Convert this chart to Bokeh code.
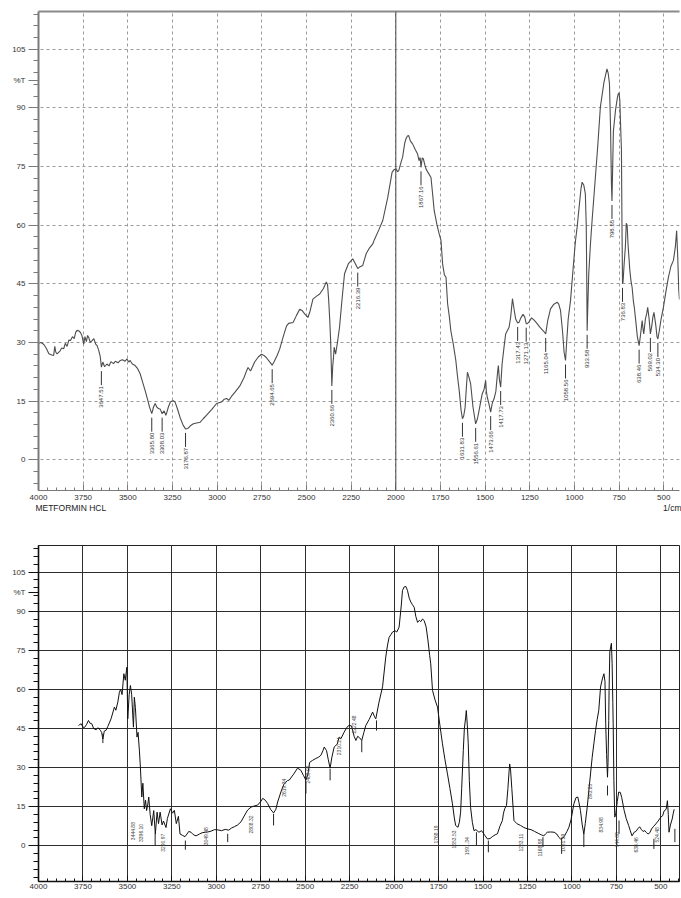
import numpy as np
from bokeh.plotting import figure
from bokeh.models import Range1d, FixedTicker, LinearAxis, Span
from bokeh.layouts import column
from bokeh.embed import file_html
from bokeh.resources import INLINE
from bokeh.core.properties import value

# ---------------- data ----------------
# top spectrum: METFORMIN HCL  (wavenumber 1/cm, %T)
top_spectrum = [
    (4000, 29.8), (3985, 30.0), (3970, 29.5), (3955, 28.4), (3942, 27.1), (3925, 26.8), (3915, 26.7),
    (3909, 29.0), (3903, 27.5), (3896, 27.1), (3880, 27.8), (3870, 28.6), (3859, 28.4), (3850, 29.8),
    (3840, 29.0), (3830, 30.6), (3821, 30.5), (3810, 31.5), (3800, 31.0), (3792, 32.6), (3784, 33.1),
    (3775, 33.0), (3766, 32.6), (3757, 31.8), (3747, 29.6), (3740, 31.5), (3732, 30.2), (3725, 31.8),
    (3719, 31.3), (3710, 30.0), (3700, 30.5), (3690, 31.0), (3680, 29.6), (3672, 29.2), (3663, 28.0),
    (3654, 26.3), (3648, 23.7), (3640, 25.0), (3630, 23.8), (3617, 24.5), (3605, 24.0), (3595, 25.1),
    (3580, 24.6), (3570, 25.2), (3555, 24.8), (3542, 25.4), (3530, 25.6), (3515, 25.2), (3505, 25.8),
    (3495, 25.0), (3487, 25.4), (3475, 24.5), (3459, 24.1), (3445, 23.3), (3431, 22.0), (3418, 20.0),
    (3403, 17.7), (3390, 15.5), (3378, 13.4), (3366, 11.8), (3356, 13.5), (3347, 14.4), (3338, 13.5),
    (3328, 13.1), (3318, 12.9), (3308, 11.8), (3297, 12.5), (3287, 11.4), (3280, 12.4), (3273, 13.5),
    (3262, 14.8), (3254, 15.0), (3245, 15.1), (3236, 14.8), (3222, 13.0), (3208, 10.9), (3190, 8.8),
    (3177, 7.9), (3165, 8.0), (3150, 8.7), (3133, 9.2), (3115, 9.4), (3096, 9.6), (3078, 10.5),
    (3059, 11.4), (3030, 12.9), (3003, 14.4), (2990, 14.6), (2975, 14.8), (2960, 15.5), (2947, 15.7),
    (2935, 15.2), (2920, 16.2), (2900, 17.3), (2873, 18.9), (2850, 21.0), (2835, 22.8), (2827, 23.6),
    (2813, 22.7), (2790, 25.0), (2770, 26.3), (2752, 27.0), (2738, 26.7), (2724, 26.1), (2705, 25.0),
    (2692, 24.2), (2680, 25.2), (2665, 26.6), (2650, 28.3), (2630, 31.5), (2612, 34.2), (2600, 34.9),
    (2575, 35.1), (2555, 37.0), (2538, 38.5), (2525, 38.2), (2510, 37.3), (2492, 36.4), (2480, 38.0),
    (2464, 41.1), (2445, 41.8), (2426, 42.4), (2405, 43.8), (2389, 45.5), (2382, 44.8), (2376, 41.1),
    (2370, 36.0), (2365, 30.8), (2358, 18.9), (2353, 24.0), (2349, 26.0), (2345, 28.8), (2337, 27.0),
    (2325, 30.5), (2315, 33.9), (2300, 41.5), (2287, 47.6), (2265, 50.2), (2241, 51.4), (2225, 50.0),
    (2213, 48.9), (2200, 49.4), (2185, 49.7), (2166, 52.7), (2150, 54.0), (2129, 55.2), (2120, 56.3),
    (2095, 58.8), (2073, 61.2), (2045, 67.1), (2021, 73.5), (2010, 74.2), (1999, 74.4), (1990, 73.7),
    (1984, 73.9), (1970, 76.2), (1962, 77.4), (1950, 81.0), (1943, 82.1), (1935, 82.8), (1928, 82.9),
    (1918, 81.5), (1906, 80.8), (1892, 79.4), (1878, 78.2), (1870, 76.5), (1864, 77.3), (1859, 74.8),
    (1852, 77.2), (1846, 77.0), (1838, 75.5), (1831, 74.4), (1820, 73.5), (1803, 72.2), (1795, 68.5),
    (1785, 63.7), (1770, 60.2), (1757, 57.7), (1747, 56.1), (1738, 50.1), (1728, 47.3), (1719, 46.7),
    (1710, 39.9), (1700, 36.5), (1692, 33.0), (1678, 29.5), (1664, 25.4), (1655, 21.5), (1645, 17.7),
    (1635, 12.8), (1627, 10.5), (1620, 11.2), (1612, 13.4), (1605, 18.5), (1599, 22.4), (1590, 21.0),
    (1581, 19.4), (1568, 13.5), (1553, 9.2), (1543, 10.5), (1534, 12.6), (1525, 14.8), (1516, 16.9),
    (1506, 18.0), (1497, 20.3), (1493, 17.5), (1488, 16.0), (1478, 14.2), (1469, 12.2), (1460, 14.5),
    (1450, 15.6), (1440, 17.5), (1430, 22.5), (1426, 24.1), (1420, 20.5), (1413, 18.6), (1405, 24.5),
    (1395, 28.5), (1385, 32.2), (1376, 33.0), (1366, 33.9), (1357, 36.5), (1347, 41.2), (1338, 38.5),
    (1329, 36.0), (1318, 35.0), (1310, 35.2), (1300, 36.3), (1288, 37.2), (1278, 36.5), (1270, 34.8),
    (1264, 34.8), (1255, 35.2), (1240, 36.3), (1227, 35.8), (1210, 34.9), (1195, 34.0), (1175, 33.0),
    (1161, 32.2), (1150, 35.5), (1134, 38.6), (1115, 39.8), (1097, 40.3), (1088, 39.8), (1078, 38.2),
    (1066, 32.5), (1058, 27.5), (1050, 25.4), (1043, 30.5), (1035, 36.0), (1022, 40.7), (1010, 47.5),
    (1000, 53.0), (994, 56.1), (985, 59.5), (972, 65.5), (963, 69.5), (957, 71.0), (948, 70.3),
    (939, 68.0), (934, 60.0), (931, 45.0), (929, 33.0), (926, 38.0), (920, 47.6), (910, 55.5),
    (901, 61.4), (885, 71.0), (870, 80.0), (855, 90.2), (835, 96.5), (818, 100.0), (811, 98.8),
    (804, 96.2), (798, 85.0), (793, 70.5), (790, 66.2), (786, 75.0), (782, 84.1), (770, 89.5),
    (760, 92.5), (755, 93.6), (750, 93.8), (746, 91.9), (742, 86.0), (737, 79.1), (734, 60.0),
    (731, 45.0), (728, 45.5), (722, 50.0), (715, 54.4), (710, 60.5), (705, 60.0), (700, 55.0),
    (690, 48.5), (684, 45.9), (677, 44.0), (670, 40.5), (665, 39.0), (657, 35.6), (648, 31.5),
    (638, 29.2), (630, 32.0), (621, 35.6), (615, 33.0), (612, 32.2), (603, 36.0), (595, 37.5),
    (590, 39.0), (582, 36.0), (575, 32.2), (568, 34.0), (561, 36.5), (555, 37.7), (545, 34.5),
    (538, 31.5), (533, 30.9), (525, 33.0), (515, 36.0), (502, 39.0), (490, 42.5), (474, 46.7),
    (460, 49.5), (446, 51.0), (435, 54.5), (428, 58.6), (422, 52.0), (416, 43.3), (412, 41.0),
]

# top peak labels: wavenumber at the peak, %T at the peak, printed text
top_peak_wn = [3648, 3366, 3308, 3177, 2692, 2358, 2213, 1859, 1627, 1553, 1469, 1413,
               1318, 1270, 1161, 1050, 929, 790, 731, 638, 575, 533]
top_peak_t = [23.7, 11.8, 11.8, 7.9, 24.2, 18.9, 48.9, 74.8, 10.5, 9.2, 12.2, 18.6,
              35.0, 34.8, 32.2, 25.4, 33.0, 66.2, 45.0, 29.2, 32.2, 30.9]
top_peak_text = ["3647.51", "3365.80", "3308.03", "3176.87", "2694.65", "2360.66", "2216.39",
                 "1867.16", "1631.83", "1556.61", "1473.66", "1417.73", "1317.43", "1271.13",
                 "1165.04", "1058.56", "933.58", "798.55", "736.83", "638.46", "569.02", "534.30"]

# bottom spectrum (wavenumber 1/cm, %T)
bottom_spectrum = [
    (3775, 46.2), (3768, 46.5), (3760, 46.8), (3750, 45.5), (3741, 45.4), (3730, 46.5), (3719, 48.1),
    (3710, 47.0), (3700, 46.8), (3690, 45.0), (3676, 44.5), (3665, 45.3), (3652, 44.3), (3645, 43.5),
    (3638, 41.0), (3630, 44.0), (3620, 44.3), (3610, 45.8), (3592, 48.7), (3573, 53.2), (3565, 52.0),
    (3554, 55.1), (3545, 58.9), (3538, 60.0), (3530, 58.0), (3520, 66.0), (3512, 63.5), (3503, 68.5),
    (3498, 48.7), (3490, 58.0), (3483, 61.5), (3476, 58.0), (3466, 45.5), (3461, 57.0), (3455, 53.0),
    (3446, 41.7), (3440, 43.5), (3432, 36.0), (3427, 30.2), (3419, 18.7), (3413, 24.0), (3405, 14.2),
    (3398, 17.5), (3392, 13.5), (3385, 16.0), (3380, 18.7), (3372, 12.0), (3363, 7.7), (3352, 13.5),
    (3343, 4.5), (3333, 12.9), (3325, 8.5), (3316, 12.9), (3305, 8.0), (3297, 9.5), (3283, 7.0),
    (3275, 10.5), (3258, 14.2), (3246, 12.5), (3236, 13.6), (3225, 8.5), (3213, 11.3), (3204, 4.5),
    (3190, 4.0), (3176, 3.5), (3165, 4.5), (3155, 5.5), (3142, 5.2), (3130, 4.3), (3114, 3.8),
    (3095, 4.5), (3080, 5.0), (3062, 5.2), (3048, 5.3), (3030, 5.6), (3010, 6.2), (2992, 6.1),
    (2970, 5.8), (2950, 6.3), (2930, 6.0), (2915, 6.8), (2899, 7.3), (2880, 8.0), (2861, 9.2),
    (2840, 11.8), (2824, 13.7), (2805, 14.8), (2790, 15.2), (2768, 15.6), (2750, 17.0), (2739, 18.2),
    (2725, 17.5), (2711, 16.2), (2695, 14.0), (2678, 12.6), (2665, 14.0), (2655, 16.8), (2635, 21.0),
    (2618, 23.9), (2600, 25.0), (2590, 25.2), (2565, 27.5), (2543, 29.8), (2525, 29.0), (2510, 27.0),
    (2496, 25.2), (2485, 27.5), (2475, 32.0), (2458, 32.8), (2440, 33.5), (2425, 34.0), (2412, 34.7),
    (2400, 36.5), (2393, 37.9), (2380, 36.5), (2370, 33.0), (2360, 29.8), (2350, 34.0), (2337, 37.9),
    (2320, 39.0), (2309, 41.7), (2299, 41.1), (2281, 43.6), (2265, 45.5), (2253, 46.2), (2240, 46.0),
    (2232, 44.0), (2225, 42.0), (2215, 40.4), (2205, 42.0), (2195, 41.5), (2182, 40.4), (2170, 43.5),
    (2159, 46.2), (2140, 48.5), (2121, 51.3), (2110, 49.5), (2103, 48.7), (2085, 55.1), (2065, 61.0),
    (2047, 72.4), (2037, 77.0), (2028, 80.0), (2018, 81.0), (2009, 82.0), (1995, 82.5), (1985, 82.0),
    (1972, 83.9), (1960, 92.0), (1953, 97.9), (1944, 99.3), (1934, 99.5), (1925, 98.0), (1915, 95.0),
    (1906, 93.5), (1897, 92.5), (1887, 91.5), (1878, 88.0), (1868, 85.7), (1858, 86.5), (1850, 86.0),
    (1840, 87.0), (1831, 86.4), (1820, 84.0), (1810, 79.0), (1800, 73.0), (1794, 69.8), (1784, 59.6),
    (1770, 56.0), (1756, 53.2), (1742, 46.0), (1728, 39.1), (1714, 33.0), (1700, 27.6), (1686, 22.0),
    (1672, 16.1), (1662, 11.0), (1654, 7.8), (1641, 7.1), (1633, 9.0), (1626, 12.9), (1620, 22.0),
    (1611, 36.5), (1605, 45.0), (1598, 49.0), (1594, 51.9), (1588, 46.0), (1583, 39.1), (1577, 25.0),
    (1570, 14.8), (1560, 9.0), (1551, 5.8), (1540, 6.2), (1523, 5.2), (1508, 5.8), (1490, 4.0),
    (1475, 2.6), (1460, 2.8), (1448, 3.5), (1432, 4.2), (1419, 4.6), (1405, 7.5), (1391, 9.7),
    (1385, 12.5), (1378, 14.2), (1368, 15.5), (1360, 22.0), (1354, 28.0), (1350, 31.4), (1345, 29.0),
    (1338, 22.0), (1326, 9.7), (1310, 8.5), (1289, 7.8), (1270, 7.0), (1251, 6.5), (1230, 6.2),
    (1210, 5.5), (1190, 4.8), (1172, 4.2), (1158, 3.8), (1148, 4.6), (1139, 5.2), (1120, 5.3),
    (1100, 5.2), (1085, 4.5), (1073, 3.2), (1064, 2.6), (1050, 3.0), (1040, 4.0), (1028, 5.5),
    (1017, 7.1), (1005, 10.0), (989, 16.1), (977, 18.5), (967, 18.7), (960, 16.5), (952, 13.5),
    (942, 8.0), (933, 4.5), (925, 8.5), (914, 14.8), (900, 24.5), (886, 34.0), (876, 39.5),
    (867, 44.3), (858, 48.5), (849, 52.0), (839, 60.9), (829, 64.0), (820, 66.0), (814, 63.0),
    (810, 46.8), (805, 35.0), (800, 26.3), (797, 32.0), (793, 48.0), (791, 59.6), (787, 74.4),
    (778, 77.7), (774, 70.0), (770, 55.0), (768, 46.8), (764, 25.0), (759, 11.0), (753, 12.5),
    (745, 17.0), (737, 20.6), (728, 20.5), (720, 18.5), (706, 13.5), (695, 10.5), (681, 7.8),
    (672, 5.8), (662, 3.8), (650, 5.2), (640, 5.5), (630, 6.5), (619, 7.3), (610, 6.3),
    (600, 5.5), (590, 5.8), (580, 5.0), (572, 4.5), (562, 5.0), (552, 6.5), (540, 7.5),
    (528, 8.4), (515, 9.5), (500, 11.0), (490, 11.5), (482, 13.3), (470, 14.0), (463, 17.3),
    (458, 12.0), (454, 5.2), (446, 8.0), (436, 10.3), (430, 12.5), (425, 14.0),
]

# bottom peak labels (wavenumber, %T at top end of the text, text)
bot_label_wn = [3468, 3423, 3300, 3058, 2805, 2618, 2487, 2309, 2224, 1766, 1663, 1592,
                1288, 1180, 1048, 899, 839, 744, 642, 524]
bot_label_t = [9.1, 8.4, 4.6, 7.1, 11.6, 25.7, 30.8, 41.7, 50.0, 7.8, 5.9, 3.3,
               4.6, 2.7, 4.6, 23.8, 11.0, 5.2, 3.3, 7.1]
bot_label_text = ["3444.88", "3396.10", "3290.97", "3049.48", "2808.32", "2619.34", "2489.06",
                  "2310.21", "2222.48", "1768.19", "1653.53", "1591.34", "1283.11", "1168.98",
                  "1051.39", "893.85", "834.98", "744.68", "638.46", "524.48"]

# bottom peak marker ticks (wavenumber, %T top, %T bottom)
bot_tick_wn = [3638, 3344, 3174, 2936, 2678, 2496, 2360, 2182, 2099, 1537, 1470, 1163,
               1058, 933, 800, 735, 539, 421]
bot_tick_top = [43.0, 4.6, 2.0, 4.6, 12.3, 24.4, 29.5, 40.4, 48.1, 5.2, 2.0, 3.3,
                2.7, 4.6, 23.1, 9.7, 2.7, 6.5]
bot_tick_bot = [39.4, 0.1, -1.5, 1.4, 7.8, 20.0, 25.1, 35.9, 44.2, 0.1, -2.5, -0.5,
                -3.1, -0.5, 19.3, 4.6, -1.2, 1.4]

y_major = [0, 15, 30, 45, 60, 75, 90, 105]
x_major = [4000, 3750, 3500, 3250, 3000, 2750, 2500, 2250, 2000, 1750, 1500, 1250, 1000, 750, 500]
y_unit_pos = 97                      # where "%T" is printed on the y axis
top_caption = {3819: "METFORMIN HCL", 451: "1/cm"}   # texts under the top x axis

FONT = "Liberation Sans"

# ---------------- helpers ----------------
def style_axes(p, y_minor, axis_col, yaxis_w, xaxis_w, label_col):
    p.xaxis.ticker = FixedTicker(ticks=x_major, minor_ticks=list(range(4000, 399, -50)))
    p.yaxis.ticker = FixedTicker(ticks=y_major + [y_unit_pos], minor_ticks=y_minor)
    for ax in p.xaxis:
        ax.major_tick_in = 6
        ax.major_tick_out = 0
        ax.minor_tick_in = 3
        ax.minor_tick_out = 0
        ax.axis_line_color = axis_col
        ax.axis_line_width = xaxis_w
        ax.major_tick_line_color = axis_col
        ax.minor_tick_line_color = axis_col
        ax.major_label_text_font = FONT
        ax.major_label_text_font_size = "8px"
        ax.major_label_text_color = label_col
        ax.major_label_standoff = 4
    for ax in p.yaxis:
        ax.major_tick_in = 0
        ax.major_tick_out = 10
        ax.minor_tick_in = 0
        ax.minor_tick_out = 5
        ax.axis_line_color = axis_col
        ax.axis_line_width = yaxis_w
        ax.major_tick_line_color = axis_col
        ax.minor_tick_line_color = axis_col
        ax.major_tick_line_width = 1.2
        ax.major_label_text_font = FONT
        ax.major_label_text_font_size = "8px"
        ax.major_label_text_color = label_col
        ax.major_label_standoff = 3
        ax.major_label_overrides = {y_unit_pos: "%T"}
    p.background_fill_color = "white"
    p.border_fill_color = "white"


# ---------------- top panel ----------------
TOP_Y0, TOP_Y1 = -7.85, 114.65
TOP_H, TOP_BT, TOP_BB = 516, 11, 26
top_ppu = (TOP_H - TOP_BT - TOP_BB) / (TOP_Y1 - TOP_Y0)

p1 = figure(width=681, height=TOP_H, x_range=Range1d(4000, 412), y_range=Range1d(TOP_Y0, TOP_Y1),
            output_backend="svg", toolbar_location=None,
            min_border_left=38, min_border_right=0, min_border_top=TOP_BT, min_border_bottom=TOP_BB)
p1.outline_line_color = None
style_axes(p1, list(range(-6, 115, 3)), "#7a7a7a", 2, 1.2, "#333333")
p1.xgrid.ticker = FixedTicker(ticks=x_major)
p1.ygrid.ticker = FixedTicker(ticks=y_major)
p1.grid.grid_line_color = "#9a9a9a"
p1.grid.grid_line_dash = "3 3"
p1.grid.grid_line_width = 1

top_axis = LinearAxis(ticker=FixedTicker(ticks=[]), major_label_text_font_size="0px",
                      axis_line_color="#8a8a8a", axis_line_width=2,
                      major_tick_line_color=None, minor_tick_line_color=None)
p1.add_layout(top_axis, "above")

caption_axis = LinearAxis(ticker=FixedTicker(ticks=list(top_caption.keys())),
                          major_label_overrides=top_caption,
                          axis_line_color=None, major_tick_line_color=None, minor_tick_line_color=None,
                          major_tick_out=0, major_tick_in=0, major_label_standoff=0,
                          major_label_text_font=FONT, major_label_text_font_size="8.5px",
                          major_label_text_color="#222222")
p1.add_layout(caption_axis, "below")

p1.add_layout(Span(location=2000, dimension="height", line_color="#555555", line_width=1.1))

tw, tt = zip(*top_spectrum)
p1.line(list(tw), list(tt), line_color="#4d4d4d", line_width=1.1)

tpw = np.array(top_peak_wn, dtype=float)
tpt = np.array(top_peak_t, dtype=float)
p1.segment(x0=tpw, y0=tpt - 4 / top_ppu, x1=tpw, y1=tpt - 18 / top_ppu,
           line_color="#333333", line_width=1)
p1.text(x=tpw, y=tpt - 19 / top_ppu, text=top_peak_text, angle=np.pi / 2,
        text_align="right", text_baseline="middle", text_font=value(FONT),
        text_font_size="6px", text_color="#333333")

# ---------------- bottom panel ----------------
BOT_Y0, BOT_Y1 = -13.7, 115.2
p2 = figure(width=681, height=380, x_range=Range1d(4000, 395), y_range=Range1d(BOT_Y0, BOT_Y1),
            output_backend="svg", toolbar_location=None,
            min_border_left=37, min_border_right=2, min_border_top=29, min_border_bottom=15)
p2.outline_line_color = "#222222"
p2.outline_line_width = 1
style_axes(p2, list(range(-12, 115, 3)), "#111111", 1.6, 1.3, "#333333")
for ax in p2.xaxis:
    ax.major_label_standoff = 2
p2.xgrid.ticker = FixedTicker(ticks=x_major)
p2.ygrid.ticker = FixedTicker(ticks=y_major)
p2.grid.grid_line_color = "#2e2e2e"
p2.grid.grid_line_width = 1
p2.grid.grid_line_dash = "solid"

bw, bt = zip(*bottom_spectrum)
p2.line(list(bw), list(bt), line_color="#111111", line_width=1)

p2.segment(x0=bot_tick_wn, y0=bot_tick_top, x1=bot_tick_wn, y1=bot_tick_bot,
           line_color="#222222", line_width=1)
p2.text(x=bot_label_wn, y=bot_label_t, text=bot_label_text, angle=np.pi / 2,
        text_align="right", text_baseline="middle", text_font=value(FONT),
        text_font_size="5px", text_color="#444444")

layout = column(p1, p2, spacing=0)
open("out.html", "w").write(file_html(layout, INLINE))
